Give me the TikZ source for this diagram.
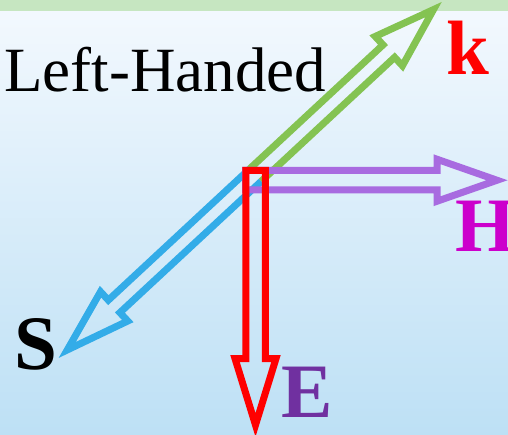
\documentclass[tikz,border=0pt]{standalone}
\usepackage{fontspec}
\setmainfont{Liberation Serif}

\definecolor{kgreen}{HTML}{84C352}
\definecolor{sblue}{HTML}{33ACE8}
\definecolor{hpurple}{HTML}{A86BE0}
\definecolor{hmag}{HTML}{CC00CC}
\definecolor{epurple}{HTML}{7030A0}
\definecolor{bandgreen}{HTML}{C6E6C1}
\definecolor{bgtop}{HTML}{F4F9FE}
\definecolor{bgbot}{HTML}{BDE0F5}

\tikzset{
  vecline/.style={line width=7pt, line join=miter, miter limit=20},
  % hollow arrow along the local x axis: head base / tip / shaft half width / head half width
  pics/openvec/.style args={#1/#2/#3/#4}{code={
    \draw[vecline] (0,#3) -- (#1,#3) -- (#1,#4) -- (#2,0) -- (#1,-#4) -- (#1,-#3) -- (0,-#3);
  }},
  pics/closedvec/.style args={#1/#2/#3/#4}{code={
    \draw[vecline] (0,#3) -- (#1,#3) -- (#1,#4) -- (#2,0) -- (#1,-#4) -- (#1,-#3) -- (0,-#3) -- cycle;
  }},
  biglabel/.style={inner sep=0pt, anchor=base west, font=\fontsize{77}{77}\selectfont\bfseries},
  titlelabel/.style={inner sep=0pt, anchor=base west, font=\fontsize{63}{63}\selectfont}
}

\begin{document}
\begin{tikzpicture}[x=1pt, y=-1pt]
  \useasboundingbox (0,0) rectangle (508,435);
  % backdrop
  \shade[top color=bgtop, bottom color=bgbot] (0,0) rectangle (508,435);
  \fill[bandgreen] (0,0) rectangle (508,11);

  \coordinate (O) at (255.5,175);

  % S and k share one shaft through O
  \pic[color=sblue, rotate=222.9] at (O) {openvec={193/257/8.5/20}};
  \pic[color=kgreen, rotate=42.9] at (O) {openvec={182/243/8.5/20}};
  % H to the right, E downwards
  \pic[color=hpurple] at (245.5,180.25) {closedvec={191.5/251.5/9.75/21}};
  \pic[color=red, rotate=-90] at (255.5,170.5) {closedvec={188/254.5/9.75/20.5}};

  % labels
  \node[titlelabel] (title) at (4,92) {Left-Handed};
  \node[biglabel, text=red] (k) at (446,75) {k};
  \node[biglabel, text=hmag] (H) at (455,252) {H};
  \node[biglabel, text=black] (S) at (14,369) {S};
  \node[biglabel, text=epurple] (E) at (281,417) {E};
\end{tikzpicture}
\end{document}
